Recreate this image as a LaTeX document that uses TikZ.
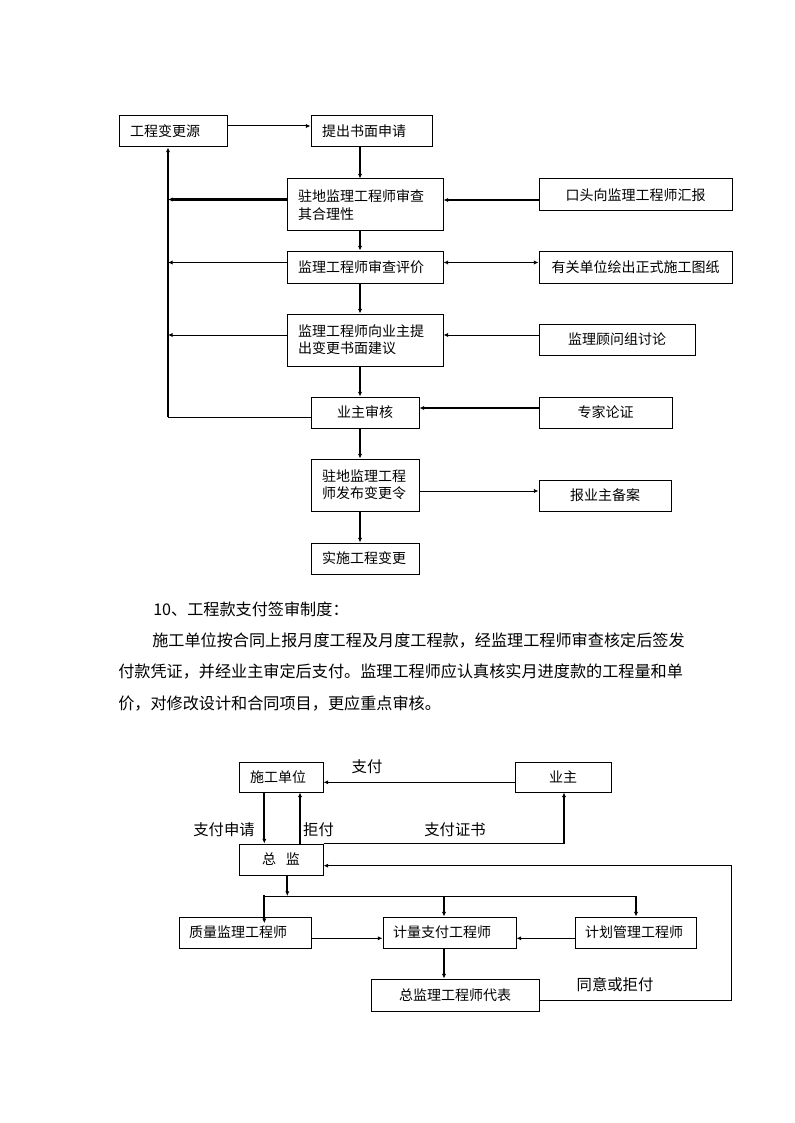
\documentclass[tikz,border=0pt]{standalone}
\usepackage{fontspec}
\setmainfont{Noto Sans CJK SC}
\usetikzlibrary{arrows.meta}
\begin{document}
\begin{tikzpicture}[x=0.75pt,y=-0.75pt,
  base/.style={draw, line width=0.75pt, inner ysep=0pt, font=\fontsize{10.5}{13}\selectfont},
  boxL/.style n args={3}{base, text width=#1, inner xsep=#3, minimum height=#2, align=left},
  boxC/.style n args={2}{base, inner xsep=0pt, minimum width=#1, minimum height=#2, align=center},
  thinl/.style={line width=0.75pt},
  thickl/.style={line width=1.6pt},
  arr/.style={-{Latex[length=3.5pt,width=3.2pt]}},
  darr/.style={{Latex[length=3.5pt,width=3.2pt]}-{Latex[length=3.5pt,width=3.2pt]}},
  lbl/.style={inner sep=0pt, font=\fontsize{11.5}{13}\selectfont},
  para/.style={inner sep=0pt, anchor=west, font=\fontsize{12.1}{14}\selectfont}
]
\useasboundingbox (0,0) rectangle (794,1123);
\fill[white] (0,0) rectangle (794,1123);

% ---------- top flowchart ----------
\node[boxL={64.5pt}{23.25pt}{8.25pt}] (src) at (173,131.5) {工程变更源};
\node[boxL={74.25pt}{23.25pt}{8.25pt}] (req) at (371.5,131.5) {提出书面申请};
\node[boxL={100.5pt}{39pt}{8.25pt}] (chk) at (365,205) {驻地监理工程师审查\\其合理性};
\node[boxL={100.5pt}{24pt}{8.25pt}] (eval) at (365,267) {监理工程师审查评价};
\node[boxL={100.5pt}{39pt}{8.25pt}] (prop) at (365,340) {监理工程师向业主提\\出变更书面建议};
\node[boxC={81pt}{23.25pt}] (own) at (365,412.5) {业主审核};
\node[boxL={64.5pt}{39pt}{8.25pt}] (ord) at (365,485) {驻地监理工程\\师发布变更令};
\node[boxL={64.5pt}{23.25pt}{8.25pt}] (impl) at (365,558.5) {实施工程变更};

\node[boxC={144.75pt}{24pt}] (oral) at (635.5,195) {口头向监理工程师汇报};
\node[boxC={144.75pt}{24pt}] (dwg) at (635.5,267) {有关单位绘出正式施工图纸};
\node[boxC={117pt}{23.25pt}] (adv) at (617,339.5) {监理顾问组讨论};
\node[boxC={99.75pt}{23.25pt}] (exp) at (605.5,412.5) {专家论证};
\node[boxC={99pt}{23.25pt}] (file) at (605,495.5) {报业主备案};

\coordinate (sx) at (360,0);
\coordinate (lx) at (168,0);
\coordinate (h126) at (0,126);
\coordinate (h199) at (0,199.5);
\coordinate (h200) at (0,200);
\coordinate (h262) at (0,262.5);
\coordinate (h335) at (0,335);
\coordinate (h408) at (0,408);
\coordinate (h418) at (0,417.7);
\coordinate (h491) at (0,491);

\draw[thinl,arr] (src.east |- h126) -- (req.west |- h126);
\draw[thickl,arr] (req.south -| sx) -- (chk.north -| sx);
\draw[thickl,arr] (chk.south -| sx) -- (eval.north -| sx);
\draw[thickl,arr] (eval.south -| sx) -- (prop.north -| sx);
\draw[thickl,arr] (prop.south -| sx) -- (own.north -| sx);
\draw[thickl,arr] (own.south -| sx) -- (ord.north -| sx);
\draw[thickl,arr] (ord.south -| sx) -- (impl.north -| sx);

\draw[thickl,arr] (chk.west |- h199) -- (lx |- h199);
\draw[thinl,arr] (eval.west |- h262) -- (lx |- h262);
\draw[thinl,arr] (prop.west |- h335) -- (lx |- h335);
\draw[thinl] (own.west |- h418) -- (lx |- h418);
\draw[thickl,arr] ([yshift=0.6pt]lx |- h418) -- (src.south -| lx);

\draw[thickl,arr] (oral.west |- h200) -- (chk.east |- h200);
\draw[thinl,darr] (eval.east |- h262) -- (dwg.west |- h262);
\draw[thinl,arr] (adv.west |- h335) -- (prop.east |- h335);
\draw[thickl,arr] (exp.west |- h408) -- (own.east |- h408);
\draw[thinl,arr] (ord.east |- h491) -- (file.west |- h491);

% ---------- paragraph ----------
\node[para] (p1) at (153,609) {10、工程款支付签审制度：};
\node[para] (p2) at (152,641) {施工单位按合同上报月度工程及月度工程款，经监理工程师审查核定后签发};
\node[para] (p3) at (118,672) {付款凭证，并经业主审定后支付。监理工程师应认真核实月进度款的工程量和单};
\node[para] (p4) at (118,704) {价，对修改设计和合同项目，更应重点审核。};

% ---------- bottom flowchart ----------
\node[boxL={46.5pt}{22.5pt}{8.25pt}] (sg) at (281,777) {施工单位};
\node[boxC={72pt}{22.5pt}] (yz) at (563,777) {业主};
\node[boxC={63pt}{23.25pt}] (zj) at (281,859.5) {总\hspace{0.7em}监};
\node[boxL={84pt}{23.25pt}{7.5pt}] (zl) at (245,932.5) {质量监理工程师};
\node[boxL={84.75pt}{23.25pt}{7.5pt}] (jl) at (449.5,932.5) {计量支付工程师};
\node[boxL={75.75pt}{23.25pt}{7.5pt}] (jh) at (635.5,932.5) {计划管理工程师};
\node[boxC={126pt}{24pt}] (db) at (455,995) {总监理工程师代表};

\coordinate (v264) at (264.3,0);
\coordinate (v287) at (287.3,0);
\coordinate (v300) at (300,0);
\coordinate (v444) at (444,0);
\coordinate (v564) at (564,0);
\coordinate (v636) at (636,0);
\coordinate (v731) at (731,0);
\coordinate (h782) at (0,782.3);
\coordinate (h866) at (0,865.7);
\coordinate (h896) at (0,896);
\coordinate (h938) at (0,938.3);
\coordinate (h1000) at (0,1000);

\draw[thinl,arr] (yz.west |- h782) -- (sg.east |- h782);
\node[lbl] (l1) at (367,767) {支付};
\draw[thickl,arr] (sg.south -| v264) -- (zj.north -| v264);
\node[lbl] (l2) at (224,830) {支付申请};
\draw[thickl,arr] (zj.north -| v300) -- (sg.south -| v300);
\node[lbl] (l3) at (318.5,830) {拒付};
\draw[thinl] (zj.north east) -- (v564 |- zj.north);
\draw[thickl,arr] ([yshift=-0.6pt]v564 |- zj.north) -- (yz.south -| v564);
\node[lbl] (l4) at (455,830) {支付证书};
\draw[thinl,arr] (db.east |- h1000) -- (v731 |- h1000) -- (v731 |- h866) -- (zj.east |- h866);
\node[lbl] (l5) at (615,985) {同意或拒付};

\draw[thickl,arr] (zj.south -| v287) -- (v287 |- h896);
\draw[thinl] (v264 |- h896) -- (v636 |- h896);
\draw[thickl,arr] ([yshift=0.6pt]v264 |- h896) -- ([yshift=-5pt]zl.north -| v264);
\draw[thickl,arr] (v444 |- h896) -- (jl.north -| v444);
\draw[thickl,arr] (v636 |- h896) -- (jh.north -| v636);
\draw[thinl,arr] (zl.east |- h938) -- (jl.west |- h938);
\draw[thinl,arr] (jh.west |- h938) -- (jl.east |- h938);
\draw[thickl,arr] (jl.south -| v444) -- (db.north -| v444);
\end{tikzpicture}
\end{document}
